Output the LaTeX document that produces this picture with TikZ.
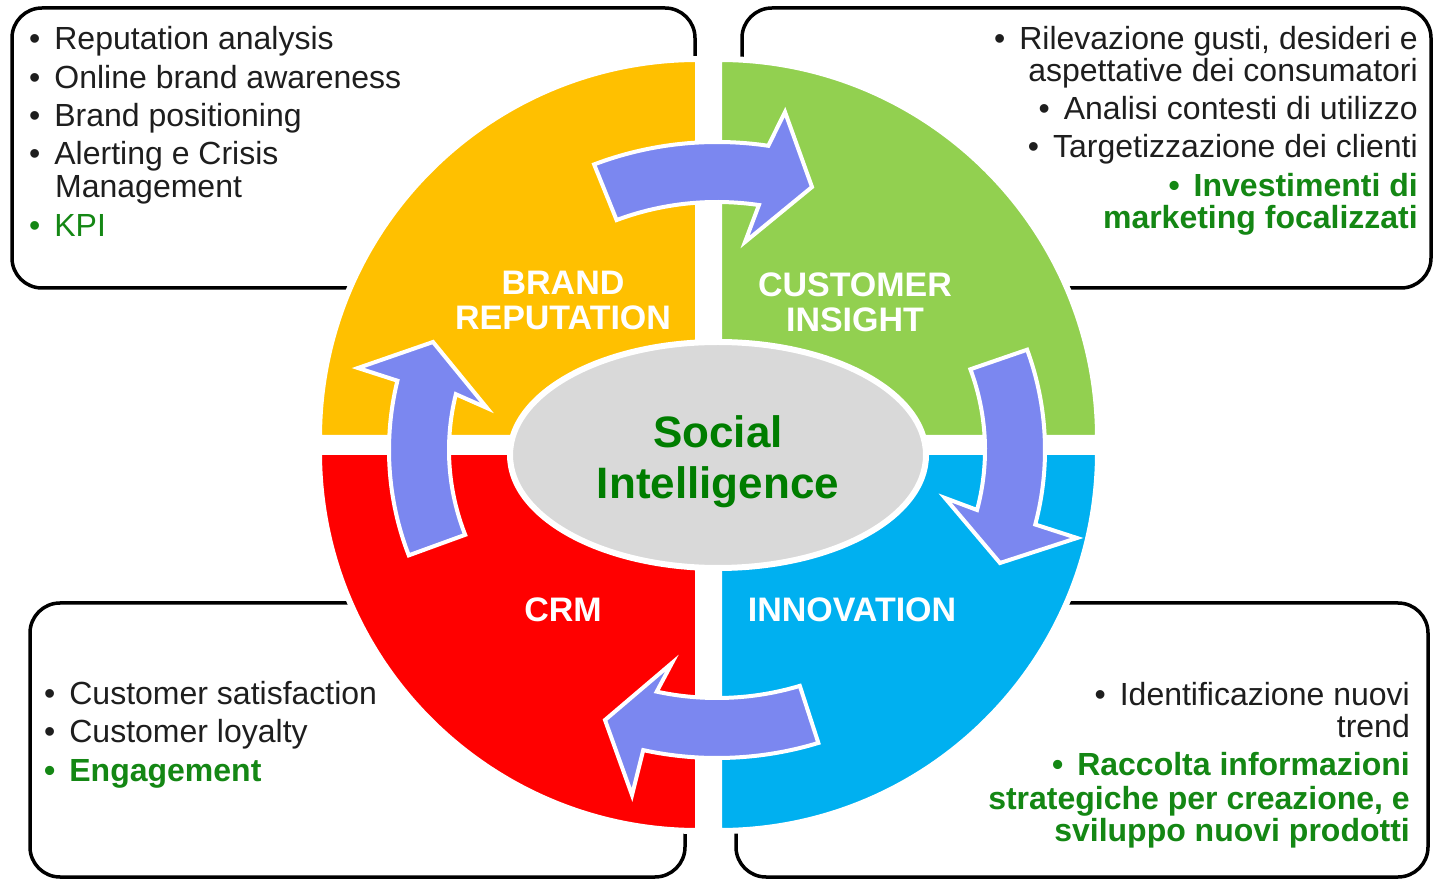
\documentclass[tikz,border=0pt]{standalone}
\usepackage{fontspec}
\setmainfont{Liberation Sans}
\usetikzlibrary{shapes.geometric}
\definecolor{brandyellow}{RGB}{255,192,0}
\definecolor{insightgreen}{RGB}{146,208,80}
\definecolor{crmred}{RGB}{255,0,0}
\definecolor{innoblue}{RGB}{0,176,240}
\definecolor{hubgray}{RGB}{217,217,217}
\definecolor{arrowblue}{RGB}{123,135,240}
\definecolor{itemgray}{RGB}{30,30,30}
\definecolor{itemgreen}{RGB}{20,135,20}
\definecolor{hubgreen}{RGB}{0,125,0}
\newcommand{\blt}{\textbullet\hspace{14pt}}
\begin{document}
\begin{tikzpicture}[x=1pt,y=1pt,
  infobox/.style={draw=black, line width=3.5pt, rounded corners=30pt, fill=white},
  quarter/.style={draw=white, line width=6pt},
  cyclearrow/.style={fill=arrowblue, draw=white, line width=4pt, line join=miter},
  item/.style={inner sep=0pt, text=itemgray, font=\fontsize{32}{38}\selectfont},
  greenitem/.style={inner sep=0pt, text=itemgreen, font=\fontsize{32}{38}\selectfont\bfseries},
  quadlabel/.style={inner sep=0pt, anchor=base, text=white, font=\fontsize{34}{40}\selectfont\bfseries},
  hublabel/.style={inner sep=0pt, anchor=base, text=hubgreen, font=\fontsize{44}{50}\selectfont\bfseries}]
\useasboundingbox (0,0) rectangle (1433,879);
\fill[white] (0,0) rectangle (1433,879);
\draw[infobox] (12,591) rectangle (695,871);
\draw[infobox] (742,591) rectangle (1431,871);
\draw[infobox] (30,2) rectangle (685,276);
\draw[infobox] (736,2) rectangle (1428,276);
\filldraw[quarter, fill=brandyellow] (698,441) -- ++(-379,0) arc[start angle=180, end angle=90, radius=379pt] -- cycle;
\filldraw[quarter, fill=insightgreen] (719,441) -- ++(0,379) arc[start angle=90, end angle=0, radius=379pt] -- cycle;
\filldraw[quarter, fill=crmred] (698,427) -- ++(0,-379) arc[start angle=270, end angle=180, radius=379pt] -- cycle;
\filldraw[quarter, fill=innoblue] (719,427) -- ++(379,0) arc[start angle=0, end angle=-90, radius=379pt] -- cycle;
\node[ellipse, fill=hubgray, draw=white, line width=6pt, minimum width=416pt, minimum height=226pt] (hub) at (718,424) {};
\coordinate (hubc) at (717,429);
\begin{scope}[shift={(hubc)}]
\draw[cyclearrow] (112:328pt and 308pt) arc[start angle=112, end angle=81, x radius=328pt, y radius=308pt] -- (68,338) -- (95,263) -- (28,208) -- (81:268pt and 248pt) arc[start angle=81, end angle=112, x radius=268pt, y radius=248pt] -- cycle;
\draw[cyclearrow] (19:328pt and 308pt) arc[start angle=19, end angle=-14, x radius=328pt, y radius=308pt] -- (360,-88) -- (283,-113) -- (228,-48) -- (-14:268pt and 248pt) arc[start angle=-14, end angle=19, x radius=268pt, y radius=248pt] -- cycle;
\draw[cyclearrow] (-72:328pt and 308pt) arc[start angle=-72, end angle=-103, x radius=328pt, y radius=308pt] -- (-85,-345) -- (-112,-270) -- (-45,-213) -- (-103:268pt and 248pt) arc[start angle=-103, end angle=-72, x radius=268pt, y radius=248pt] -- cycle;
\draw[cyclearrow] (200:328pt and 308pt) arc[start angle=200, end angle=167, x radius=328pt, y radius=308pt] -- (-359,82) -- (-284,108) -- (-230,42) -- (167:268pt and 248pt) arc[start angle=167, end angle=200, x radius=268pt, y radius=248pt] -- cycle;
\end{scope}
\node[hublabel] (social) at (718,431) {Social};
\node[hublabel] (intel) at (718,380) {Intelligence};
\node[quadlabel] (brand) at (563,584) {BRAND};
\node[quadlabel] (reput) at (563,549) {REPUTATION};
\node[quadlabel] (customer) at (855,582) {CUSTOMER};
\node[quadlabel] (insight) at (855,547) {INSIGHT};
\node[quadlabel] (crm) at (563,257) {CRM};
\node[quadlabel] (innov) at (852,257) {INNOVATION};
\node[item, anchor=base west] (tl1) at (29,829) {\blt Reputation analysis};
\node[item, anchor=base west] (tl2) at (29,790) {\blt Online brand awareness};
\node[item, anchor=base west] (tl3) at (29,752) {\blt Brand positioning};
\node[item, anchor=base west] (tl4) at (29,714) {\blt Alerting e Crisis};
\node[item, anchor=base west] (tl5) at (55,681) {Management};
\node[item, anchor=base west, text=itemgreen] (tl6) at (29,642) {\blt KPI};
\node[item, anchor=base east] (tr1) at (1418,829) {\blt Rilevazione gusti, desideri e};
\node[item, anchor=base east] (tr2) at (1418,797) {aspettative dei consumatori};
\node[item, anchor=base east] (tr3) at (1418,759) {\blt Analisi contesti di utilizzo};
\node[item, anchor=base east] (tr4) at (1418,721) {\blt Targetizzazione dei clienti};
\node[greenitem, anchor=base east] (tr5) at (1418,682) {\blt Investimenti di};
\node[greenitem, anchor=base east] (tr6) at (1418,650) {marketing focalizzati};
\node[item, anchor=base west] (bl1) at (44,175) {\blt Customer satisfaction};
\node[item, anchor=base west] (bl2) at (44,136) {\blt Customer loyalty};
\node[greenitem, anchor=base west] (bl3) at (44,98) {\blt Engagement};
\node[item, anchor=base east] (br1) at (1410,174) {\blt Identificazione nuovi};
\node[item, anchor=base east] (br2) at (1410,142) {trend};
\node[greenitem, anchor=base east] (br3) at (1410,104) {\blt Raccolta informazioni};
\node[greenitem, anchor=base east] (br4) at (1410,70) {strategiche per creazione, e};
\node[greenitem, anchor=base east] (br5) at (1410,38) {sviluppo nuovi prodotti};
\end{tikzpicture}
\end{document}
